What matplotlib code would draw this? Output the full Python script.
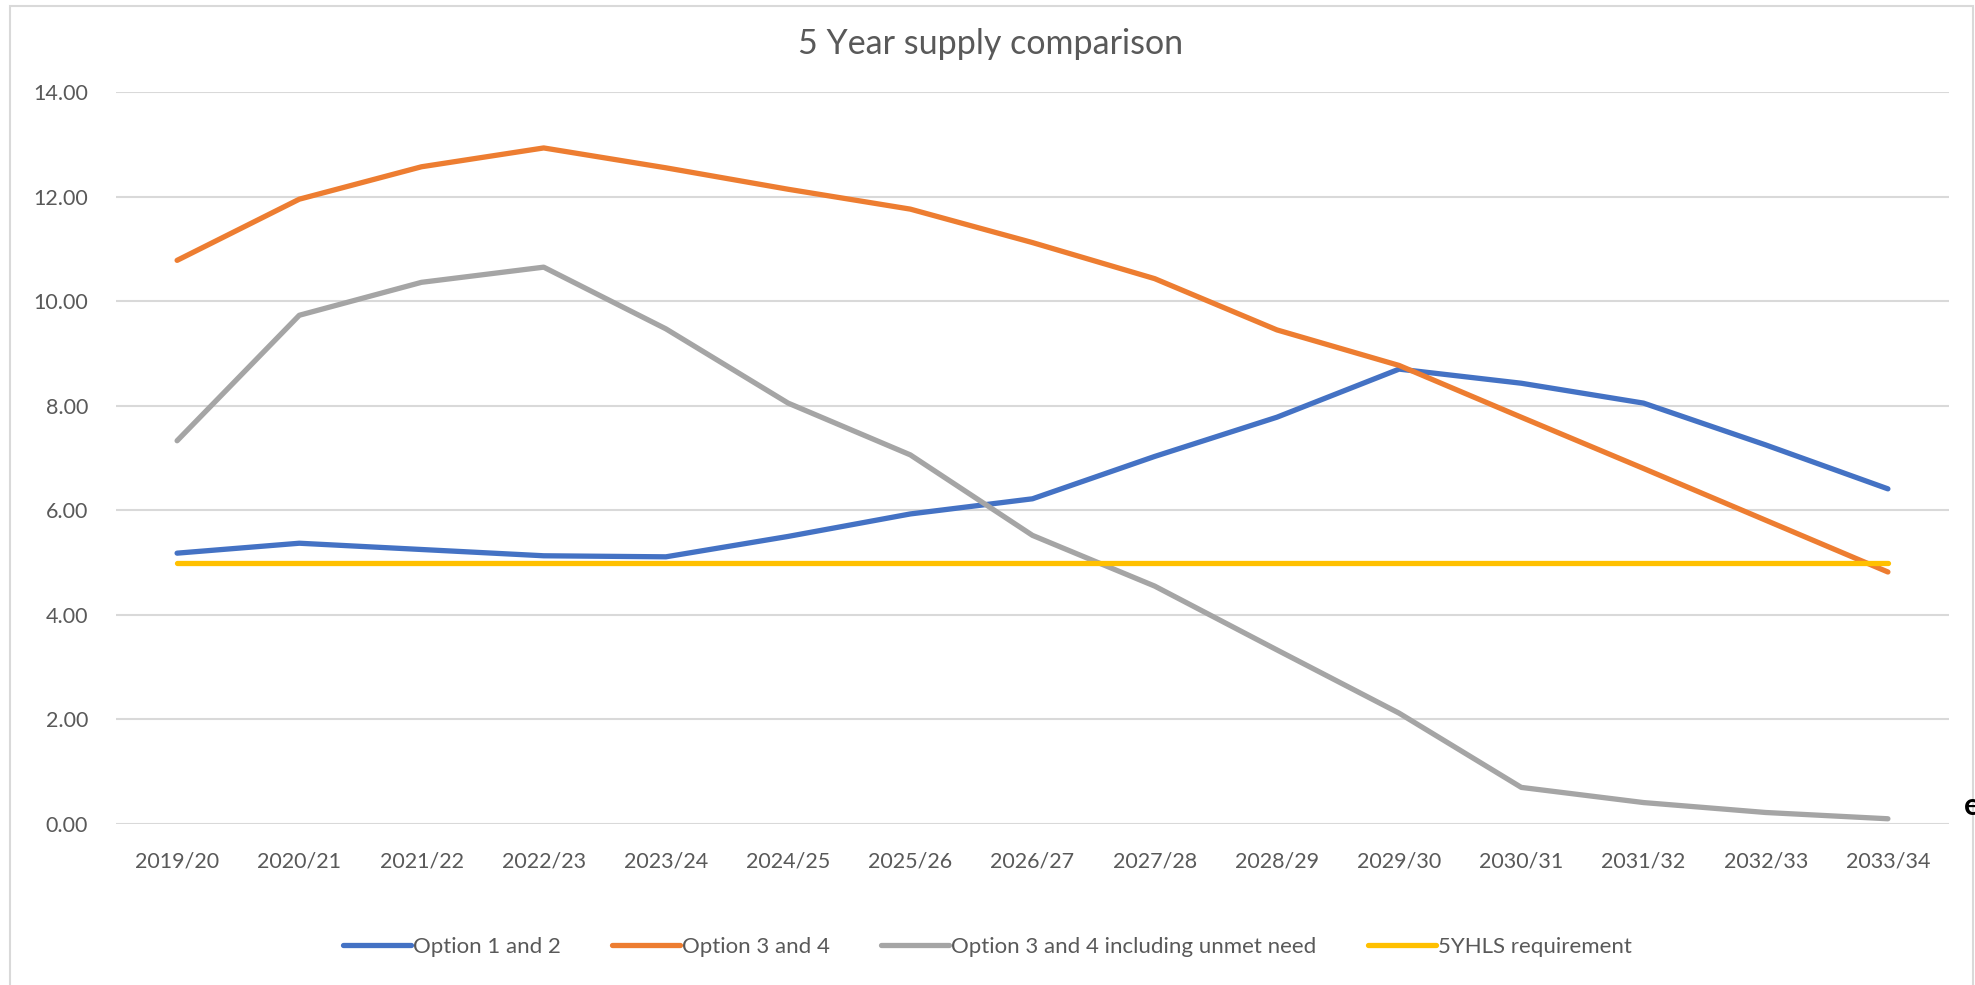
import matplotlib
matplotlib.use("Agg")
import matplotlib.pyplot as plt
from matplotlib.patches import Rectangle

plt.rcParams['font.family'] = ['Lato', 'DejaVu Sans']

categories = ["2019/20", "2020/21", "2021/22", "2022/23", "2023/24", "2024/25", "2025/26",
              "2026/27", "2027/28", "2028/29", "2029/30", "2030/31", "2031/32", "2032/33", "2033/34"]
option_1_2 = [5.18, 5.37, 5.25, 5.13, 5.11, 5.50, 5.93, 6.22, 7.03, 7.78, 8.70, 8.43, 8.05, 7.25, 6.41]
option_3_4 = [10.78, 11.95, 12.57, 12.93, 12.55, 12.14, 11.76, 11.12, 10.43, 9.45, 8.77, 7.78, 6.80, 5.81, 4.82]
option_3_4_unmet = [7.33, 9.73, 10.36, 10.65, 9.47, 8.05, 7.06, 5.52, 4.55, 3.33, 2.12, 0.70, 0.41, 0.22, 0.10]
requirement = [5.0] * 15

series_names = ["Option 1 and 2", "Option 3 and 4", "Option 3 and 4 including unmet need", "5YHLS requirement"]
colors = ["#4472C4", "#ED7D31", "#A5A5A5", "#FFC000"]
yticks = [0, 2, 4, 6, 8, 10, 12, 14]

fig = plt.figure(figsize=(19.75, 9.85), dpi=100)
ax = fig.add_axes([116/1975, 1-824/985, (1949-116)/1975, (824-92)/985])

x = list(range(len(categories)))
for vals, name, col in zip([option_1_2, option_3_4, option_3_4_unmet, requirement], series_names, colors):
    ax.plot(x, vals, color=col, lw=3.8, label=name, solid_capstyle='round', solid_joinstyle='round', zorder=3)

ax.set_xlim(-0.5, len(categories) - 0.5)
ax.set_ylim(0, 14)
ax.set_yticks(yticks)
ax.set_yticklabels([f"{v:.2f}" for v in yticks])
ax.set_xticks(x)
ax.set_xticklabels(categories)
ax.grid(axis='y', color='#D9D9D9', lw=1.5, zorder=0)
ax.tick_params(length=0, labelsize=15.5, labelcolor='#595959')
ax.tick_params(axis='x', pad=20)
ax.tick_params(axis='y', pad=20)
for s in ax.spines.values():
    s.set_visible(False)

fig.text(991/1975, 1-44/985, "5 Year supply comparison", ha='center', va='center', fontsize=24.5, color='#595959')

leg = fig.legend(loc='center', bbox_to_anchor=(0.5, 1-947/985), ncol=4, frameon=False,
                 fontsize=16, handlelength=3.05, handletextpad=0.1, columnspacing=2.3)
for t in leg.get_texts():
    t.set_color('#595959')

fig.patches.append(Rectangle((10/1975, -0.01), (1973-10)/1975, 1-6/985 + 0.01, transform=fig.transFigure,
                             fill=False, edgecolor='#D9D9D9', lw=1.5))
fig.text(1964/1975, 1-806/985, "e", ha='left', va='center', fontsize=22, fontweight='bold', color='black')

fig.savefig("out.png", dpi=100, facecolor='white')
